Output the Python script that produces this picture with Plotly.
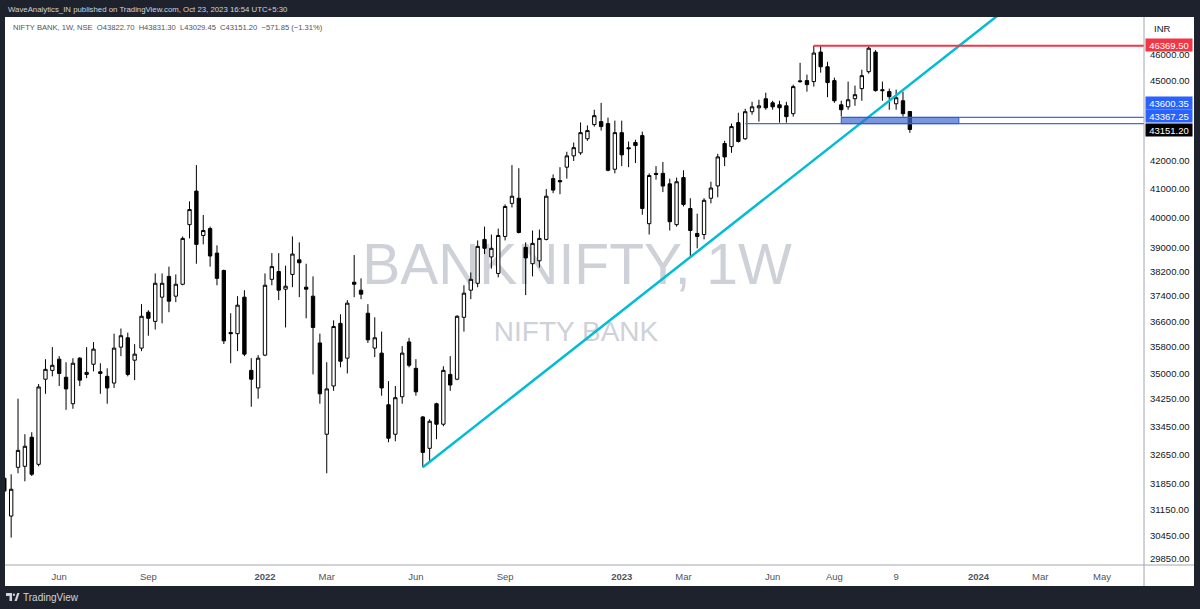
import math
import pandas as pd
import plotly.graph_objects as go

# ---------------- data (weekly NIFTY BANK candles) ----------------
first_week = "2021-04-12"   # Monday of the first (partly hidden) candle

open_ = [31990, 30968, 32291, 32319, 33136, 32374, 34827, 35092, 35431, 34885,
         34102, 35462, 34971, 35277, 35050, 34913, 34712, 35800, 36088, 35400,
         35769, 36888, 36600, 37368, 38040, 37400, 37784, 39767, 40929, 39400,
         39633, 38808, 38232, 36250, 36216, 37368, 35092, 34567, 35554, 37944,
         38200, 37624, 38104, 38584, 37690, 37400, 35928, 33221, 34625, 36536,
         35462, 37850, 37592, 36856, 35769, 35615, 34072, 33221, 34308, 35960,
         35154, 33717, 32821, 34102, 33507, 34971, 34827, 36728, 37592, 37816,
         39267, 38680, 38136, 39367, 40500, 40679, 39000, 38456, 38552, 39267,
         41370, 41300, 41778, 42185, 42296, 42809, 43333, 43444, 43370, 41704,
         43035, 42480, 42672, 42926, 39800, 41556, 41556, 41185, 39767, 41407,
         40321, 39467, 39433, 40679, 41111, 42635, 42522, 43407, 42809, 43815,
         43963, 44306, 44151, 44076, 44038, 43741, 44990, 45000, 44962, 46115,
         45538, 45000, 44076, 44000, 44306, 44692, 45346, 46115, 44650, 44577,
         44115, 44229, 43822.70]
high = [32200, 32098, 34250, 33221, 33279, 34683, 35431, 35800, 35523, 35338,
        35462, 35492, 35800, 35954, 35308, 35154, 36216, 36376, 36248, 35890,
        37144, 36952, 38136, 38136, 38360, 38104, 39367, 40571, 41852, 40100,
        39700, 39067, 38264, 36856, 37400, 37592, 35462, 35554, 38136, 38808,
        38808, 38392, 39367, 39167, 38456, 38040, 36216, 35338, 36632, 36824,
        37272, 38744, 37976, 37144, 36728, 36280, 34769, 34625, 35831, 36088,
        35431, 33746, 33650, 34131, 35215, 35523, 36792, 37752, 38168, 39233,
        39700, 39433, 39633, 40464, 41852, 41741, 39167, 39567, 39600, 41000,
        41519, 41778, 42334, 42672, 43414, 43300, 43889, 44151, 43593, 43481,
        43481, 42709, 42772, 43073, 41556, 41815, 41963, 41370, 41407, 41667,
        40679, 40143, 40679, 41259, 42259, 42735, 43370, 43778, 43926, 44190,
        44267, 44537, 44229, 44229, 44190, 44846, 45692, 45231, 46369.50, 46346,
        45731, 45115, 44229, 44962, 44808, 45423, 46346, 46192, 44962, 44692,
        44654, 44577, 43831.30]
low = [31450, 30400, 32126, 31905, 32050, 32319, 34394, 34913, 34625, 33924,
       33954, 34625, 34856, 35062, 34394, 34102, 34567, 35523, 34913, 34798,
       35677, 36152, 36344, 36536, 36888, 37208, 37752, 39300, 38456, 39100,
       38360, 37752, 35896, 35308, 35677, 35523, 34013, 34250, 35523, 37752,
       37272, 36408, 37688, 37368, 36696, 34971, 34102, 32126, 34481, 35185,
       35000, 37368, 37304, 35928, 35492, 34337, 32993, 33021, 34102, 35185,
       34337, 32291, 32429, 33079, 33450, 34481, 34798, 36280, 37304, 37688,
       38776, 38296, 38008, 39233, 40357, 39467, 37432, 38040, 38328, 39233,
       40857, 40821, 41370, 42000, 42222, 42735, 43259, 43111, 41630, 41556,
       41815, 41778, 41926, 40107, 39433, 41333, 40893, 39567, 39700, 40393,
       38680, 38968, 39267, 40500, 40714, 41815, 42296, 42672, 42772, 43704,
       43444, 43889, 43889, 43407, 43407, 43630, 44920, 44577, 44769, 45308,
       44364, 44151, 43630, 43889, 44038, 44229, 45269, 44577, 44229, 43889,
       43889, 43630, 43029.45]
close = [31640, 31688, 32764, 32879, 32098, 34596, 35123, 35246, 35000, 34538,
         35308, 34798, 35031, 35738, 35000, 34567, 35769, 36152, 34971, 35585,
         36760, 36696, 37816, 37816, 37240, 37784, 39300, 40286, 39100, 39567,
         38712, 37976, 35992, 36216, 37112, 35585, 34827, 35462, 37752, 38360,
         37592, 37720, 38776, 38488, 37624, 36408, 34394, 34538, 36440, 35369,
         37176, 37784, 37464, 36024, 36088, 34567, 33107, 34279, 35615, 35246,
         34452, 32707, 33593, 33507, 35092, 34654, 36760, 37496, 37944, 39033,
         38968, 38968, 39400, 40393, 40750, 39500, 38648, 39133, 39300, 40750,
         40964, 41259, 42185, 42484, 43035, 43111, 43667, 43259, 41667, 43035,
         42222, 42447, 42560, 40321, 41481, 41520, 41107, 39867, 41259, 40464,
         39567, 39367, 40607, 41037, 42148, 42148, 43259, 42709, 43815, 44000,
         44038, 43963, 44000, 43963, 43630, 44769, 44962, 44846, 46077, 45538,
         44923, 44229, 43889, 44267, 44460, 45192, 46269, 44615, 44615, 44383,
         44344, 43741, 43151.20]

# drawn levels / objects
resistance_level = 46369.50
resistance_from = "2023-07-17"
zone_top = 43600.35
zone_bottom = 43367.25
zone_from = "2023-08-14"
zone_to = "2023-12-12"
support_line_from = "2023-05-08"
last_close = 43151.20
trend_dates = ["2022-06-13", "2024-02-12"]
trend_prices = [32291, 48294]

# axis labels
ytick_vals = [29850, 30450, 31150, 31850, 32650, 33450, 34250, 35000, 35800,
              36600, 37400, 38200, 39000, 40000, 41000, 42000, 45000, 46000]
xtick_dates = ["2021-06-07", "2021-09-06", "2022-01-03", "2022-03-07", "2022-06-06",
               "2022-09-05", "2023-01-02", "2023-03-06", "2023-06-05", "2023-08-07",
               "2023-10-09", "2024-01-01", "2024-03-04", "2024-05-06"]
xtick_text = ["Jun", "Sep", "2022", "Mar", "Jun", "Sep", "2023", "Mar", "Jun", "Aug",
              "9", "2024", "Mar", "May"]

dates = pd.date_range(first_week, periods=len(open_), freq="W-MON")

# ---------------- layout geometry ----------------
W, H = 1200, 609
ML, MR, MT, MB = 5, 56, 17, 44
PW, PH = W - ML - MR, H - MT - MB
x_range = [pd.Timestamp("2021-04-12 17:00"), pd.Timestamp("2024-06-17 22:00")]
y_range = [math.log10(29694), math.log10(47525)]

def px(x):
    return (x - ML) / PW

def py(y):
    return (H - MB - y) / PH

def px_date(x):
    return x_range[0] + (x_range[1] - x_range[0]) * px(x)

def py_price(y):
    return 10 ** (y_range[0] + (y_range[1] - y_range[0]) * py(y))

FONT = "Liberation Sans, Arial, sans-serif"
DARK = "#1e222d"
right_edge = px_date(1160)

fig = go.Figure()

fig.add_trace(go.Candlestick(
    x=dates, open=open_, high=high, low=low, close=close,
    increasing=dict(fillcolor="#ffffff", line=dict(color="#000000", width=1)),
    decreasing=dict(fillcolor="#000000", line=dict(color="#000000", width=1)),
    hoverinfo="skip", showlegend=False,
))

# trend line
fig.add_trace(go.Scatter(x=trend_dates, y=trend_prices, mode="lines",
                         line=dict(color="#00bcd4", width=2.5), hoverinfo="skip",
                         showlegend=False))
# resistance line
fig.add_trace(go.Scatter(x=[resistance_from, right_edge], y=[resistance_level] * 2,
                         mode="lines", line=dict(color="#f23645", width=2),
                         hoverinfo="skip", showlegend=False))
# zone lines
fig.add_trace(go.Scatter(x=[support_line_from, right_edge], y=[zone_bottom] * 2,
                         mode="lines", line=dict(color="#3d6ee0", width=1.3),
                         hoverinfo="skip", showlegend=False))
fig.add_trace(go.Scatter(x=[zone_from, right_edge], y=[zone_top] * 2,
                         mode="lines", line=dict(color="#3d6ee0", width=1.3),
                         hoverinfo="skip", showlegend=False))

shapes = []
# white chart area on the dark frame
shapes.append(dict(type="rect", xref="paper", yref="paper", x0=px(5), x1=px(1194),
                   y0=py(586), y1=py(17), fillcolor="#ffffff", line=dict(width=0),
                   layer="below"))
# watermark (below the candles)
shapes.append(dict(type="rect", xref="x", yref="y", x0=px_date(300), x1=px_date(854),
                   y0=py_price(292), y1=py_price(226), line=dict(width=0),
                   fillcolor="rgba(0,0,0,0)", layer="below",
                   label=dict(text="BANKNIFTY, 1W", textposition="middle center",
                              font=dict(family=FONT, size=57, color="#cfd1d8"))))
shapes.append(dict(type="rect", xref="x", yref="y", x0=px_date(476), x1=px_date(676),
                   y0=py_price(343), y1=py_price(313), line=dict(width=0),
                   fillcolor="rgba(0,0,0,0)", layer="below",
                   label=dict(text="NIFTY BANK", textposition="middle center",
                              font=dict(family=FONT, size=28, color="#cfd1d8"))))
# zone rectangle
shapes.append(dict(type="rect", xref="x", yref="y", x0=zone_from, x1=zone_to,
                   y0=zone_bottom, y1=zone_top, fillcolor="rgba(66,105,205,0.7)",
                   line=dict(color="#2f5bd0", width=1), layer="above"))
# pane separators
shapes.append(dict(type="line", xref="paper", yref="paper", x0=px(5), x1=px(1194),
                   y0=py(565), y1=py(565), line=dict(color="#a3a6af", width=1)))
shapes.append(dict(type="line", xref="paper", yref="paper", x0=px(1144), x1=px(1144),
                   y0=py(586), y1=py(17), line=dict(color="#a3a6af", width=1)))
# TradingView logo (small glyph)
logo = "#d1d4dc"
shapes.append(dict(type="rect", xref="paper", yref="paper", x0=px(6), x1=px(12),
                   y0=py(596), y1=py(593), fillcolor=logo, line=dict(width=0)))
shapes.append(dict(type="rect", xref="paper", yref="paper", x0=px(9.5), x1=px(12),
                   y0=py(601), y1=py(593), fillcolor=logo, line=dict(width=0)))
shapes.append(dict(type="circle", xref="paper", yref="paper", x0=px(12.8), x1=px(15),
                   y0=py(596), y1=py(593.5), fillcolor=logo, line=dict(width=0)))
shapes.append(dict(type="path", xref="paper", yref="paper",
                   path=f"M {px(14.5)} {py(601)} L {px(16.8)} {py(601)} L {px(19.5)} {py(593)} L {px(17.2)} {py(593)} Z",
                   fillcolor=logo, line=dict(width=0)))

ann = []
ann.append(dict(xref="paper", yref="paper", x=px(6), y=py(9), xanchor="left",
                yanchor="middle", showarrow=False,
                text="WaveAnalytics_IN published on TradingView.com, Oct 23, 2023 16:54 UTC+5:30",
                font=dict(family=FONT, size=7.8, color="#d1d4dc")))
ann.append(dict(xref="paper", yref="paper", x=px(11), y=py(27), xanchor="left",
                yanchor="middle", showarrow=False,
                text="NIFTY BANK, 1W, NSE  O43822.70  H43831.30  L43029.45  C43151.20  −571.85 (−1.31%)",
                font=dict(family=FONT, size=7.6, color="#50535e")))
ann.append(dict(xref="paper", yref="paper", x=px(1152), y=py(28), xanchor="left",
                yanchor="middle", showarrow=False, text="INR",
                font=dict(family=FONT, size=9.5, color="#131722")))
ann.append(dict(xref="paper", yref="paper", x=px(21), y=py(597), xanchor="left",
                yanchor="middle", showarrow=False, text="TradingView",
                font=dict(family=FONT, size=10, color="#d1d4dc")))

def price_tag(value, ycenter, bg):
    return dict(xref="paper", yref="paper", x=px(1145), y=py(ycenter), xanchor="left",
                yanchor="middle", showarrow=False, text=f"{value:.2f}",
                bgcolor=bg, width=46, height=12, borderpad=0, align="center",
                font=dict(family=FONT, size=9.5, color="#ffffff"))

ann.append(price_tag(resistance_level, 45, "#f23645"))
ann.append(price_tag(zone_top, 102.5, "#2962ff"))
ann.append(price_tag(zone_bottom, 116.5, "#2962ff"))
ann.append(price_tag(last_close, 130, "#000000"))

xt_fmt = [f"<b>{t}</b>" if t.isdigit() and len(t) == 4 else t for t in xtick_text]

fig.update_layout(
    width=W, height=H, autosize=False,
    margin=dict(l=ML, r=MR, t=MT, b=MB, pad=0),
    paper_bgcolor=DARK, plot_bgcolor="#ffffff",
    showlegend=False, hovermode=False,
    shapes=shapes, annotations=ann,
    font=dict(family=FONT),
    xaxis=dict(type="date", range=x_range, rangeslider=dict(visible=False),
               tickvals=xtick_dates, ticktext=xt_fmt, showgrid=False, zeroline=False,
               showline=False, ticks="", ticklabelstandoff=4,
               tickfont=dict(size=9.5, color="#50535e", family=FONT)),
    yaxis=dict(type="log", range=y_range, side="right", tickvals=ytick_vals,
               ticktext=[f"{v:.2f}" for v in ytick_vals], showgrid=False,
               zeroline=False, showline=False, ticks="", ticklabelstandoff=5,
               tickfont=dict(size=9.5, color="#131722", family=FONT)),
)

fig.write_html("out.html", config={"displayModeBar": False, "staticPlot": True},
               post_script="document.body.style.margin='0px';document.body.style.overflow='hidden';")
